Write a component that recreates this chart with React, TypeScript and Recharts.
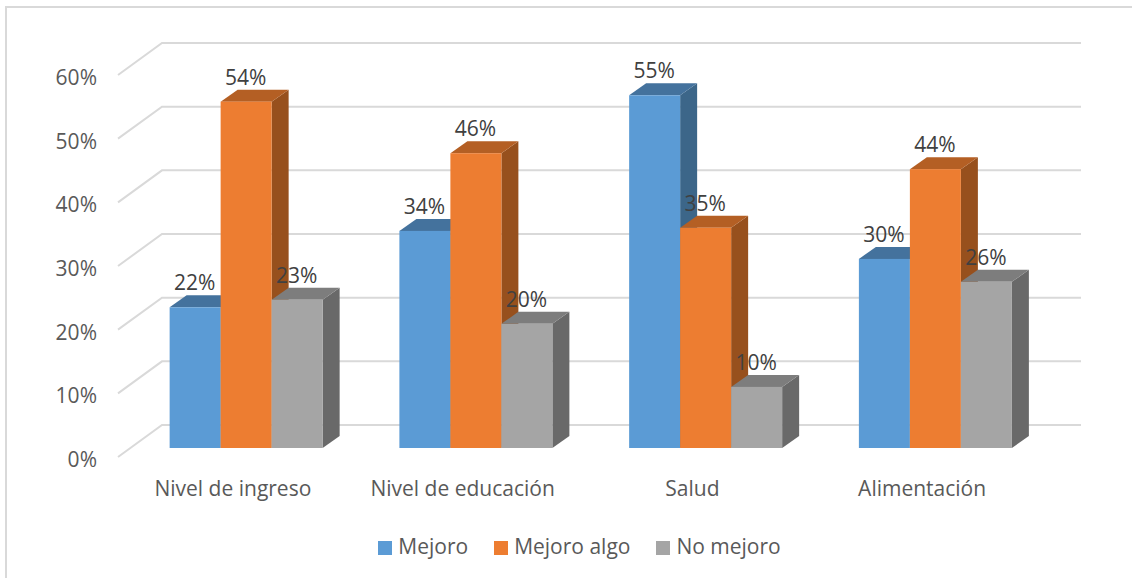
import { Bar, BarChart, Legend, ReferenceLine, XAxis, YAxis } from "recharts"

const categories = ["Nivel de ingreso", "Nivel de educación", "Salud", "Alimentación"]
const mejoro = [22.1, 34.1, 55.4, 29.7]
const mejoroAlgo = [54.4, 46.3, 34.6, 43.8]
const noMejoro = [23.3, 19.5, 9.6, 26.1]
const ticks = [0, 10, 20, 30, 40, 50, 60]

const data = categories.map((name, i) => ({
  name,
  mejoro: mejoro[i],
  mejoroAlgo: mejoroAlgo[i],
  noMejoro: noMejoro[i],
}))

const FONT = "'Open Sans', sans-serif"
const TEXT = "#595959"
const FONT_SIZE = 21
// depth of the fake 3d, from the bar plane to the back wall / front edge
const DX = 17
const DY = 12
const BACK_X = 30.5
const BACK_Y = 23
const FRONT_X = 13.5
const FRONT_Y = 9

function Bar3D(props: any) {
  const { x, y, width, height, fill, top, side } = props
  const r = x + width
  const b = y + height
  return (
    <g>
      <polygon points={`${r},${y} ${r + DX},${y - DY} ${r + DX},${b - DY} ${r},${b}`} fill={side} />
      <polygon points={`${x},${y} ${x + DX},${y - DY} ${r + DX},${y - DY} ${r},${y}`} fill={top} />
      <rect x={x} y={y} width={width} height={height} fill={fill} />
    </g>
  )
}

function WallLine(props: any) {
  const { x1, y1, x2 } = props
  const pts = `${x1 - FRONT_X},${y1 + FRONT_Y} ${x1 + BACK_X},${y1 - BACK_Y} ${x2 + BACK_X},${y1 - BACK_Y}`
  return <polyline points={pts} fill="none" stroke="#d9d9d9" strokeWidth={2} />
}

function YTick(props: any) {
  const { x, y, payload } = props
  return (
    <text x={x - 26.5} y={y + FRONT_Y + 10} textAnchor="end" fontFamily={FONT} fontSize={FONT_SIZE} fill={TEXT}>
      {payload.value}%
    </text>
  )
}

function XTick(props: any) {
  const { x, y, payload } = props
  return (
    <text x={x - FRONT_X} y={y + 15} textAnchor="middle" fontFamily={FONT} fontSize={FONT_SIZE} fill={TEXT}>
      {payload.value}
    </text>
  )
}

function BarLabel(props: any) {
  const { x, y, width, value } = props
  return (
    <text x={x + width / 2 - 0.5} y={y - 17} textAnchor="middle" fontFamily={FONT} fontSize={FONT_SIZE} fill="#404040">
      {Math.round(value)}%
    </text>
  )
}

export default function App() {
  return (
    <div
      style={{
        position: "absolute",
        left: 0,
        top: 0,
        width: 1132,
        height: 578,
        background: "#fff",
        overflow: "hidden",
      }}
    >
      <div
        style={{
          position: "absolute",
          left: 5,
          top: 6,
          width: 1140,
          height: 590,
          border: "2px solid #d9d9d9",
        }}
      />
      <BarChart
        width={1132}
        height={578}
        data={data}
        barGap={0}
        barCategoryGap="16.6%"
        margin={{ top: 66, right: 81.5, bottom: 18, left: 98.5 }}
        style={{ position: "absolute", left: 0, top: 0 }}
      >
        <XAxis
          dataKey="name"
          axisLine={false}
          tickLine={false}
          height={84}
          tick={<XTick />}
          tickMargin={27}
        />
        <YAxis
          width={33}
          orientation="left"
          domain={[0, 60]}
          ticks={ticks}
          axisLine={false}
          tickLine={false}
          tick={<YTick />}
          interval={0}
        />
        {ticks.map((t) => (
          <ReferenceLine key={t} y={t} zIndex={-100} shape={<WallLine />} />
        ))}
        <Legend
          verticalAlign="bottom"
          iconType="square"
          iconSize={14}
          wrapperStyle={{ fontFamily: FONT, fontSize: FONT_SIZE, color: TEXT, left: 116.5 }}
          formatter={(value) => <span style={{ color: TEXT, marginLeft: 2, marginRight: 16 }}>{value}</span>}
        />
        <Bar
          dataKey="mejoro"
          name="Mejoro"
          fill="#5b9bd5"
          isAnimationActive={false}
          shape={<Bar3D top="#44729d" side="#3c6689" />}
          label={<BarLabel />}
        />
        <Bar
          dataKey="mejoroAlgo"
          name="Mejoro algo"
          fill="#ed7d31"
          isAnimationActive={false}
          shape={<Bar3D top="#b45f24" side="#97501d" />}
          label={<BarLabel />}
        />
        <Bar
          dataKey="noMejoro"
          name="No mejoro"
          fill="#a5a5a5"
          isAnimationActive={false}
          shape={<Bar3D top="#7d7d7d" side="#696969" />}
          label={<BarLabel />}
        />
      </BarChart>
    </div>
  )
}
